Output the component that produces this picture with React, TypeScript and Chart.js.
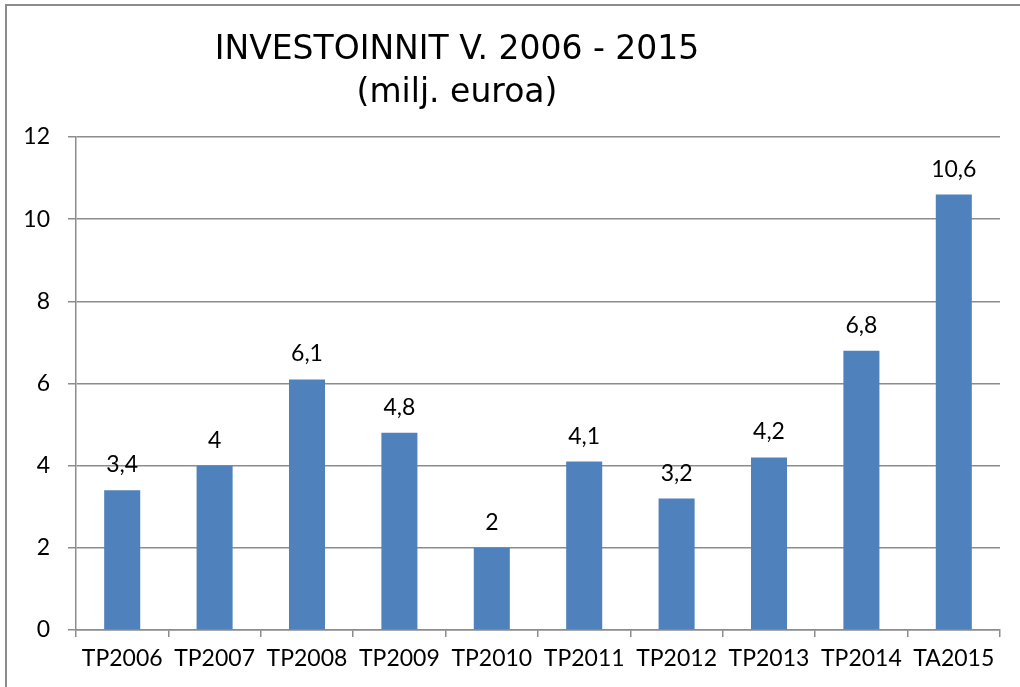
import React, { useEffect, useRef } from "react";
import { Chart, registerables } from "chart.js";

Chart.register(...registerables);

const categories = ["TP2006", "TP2007", "TP2008", "TP2009", "TP2010", "TP2011", "TP2012", "TP2013", "TP2014", "TA2015"];
const values = [3.4, 4, 6.1, 4.8, 2, 4.1, 3.2, 4.2, 6.8, 10.6];
const titleLines = ["INVESTOINNIT V. 2006 - 2015", "(milj. euroa)"];
const yMin = 0;
const yMax = 12;
const yStep = 2;

const TITLE_FONT = "'DejaVu Sans', Verdana, sans-serif";
const FONT = "Lato, 'Open Sans', sans-serif";
const fmt = (v: number) => String(v).replace(".", ",");

const labelsPlugin = {
  id: "barLabels",
  afterDatasetsDraw(chart: any) {
    const ctx = chart.ctx;
    const meta = chart.getDatasetMeta(0);
    ctx.save();
    ctx.fillStyle = "#000";
    ctx.font = `23px ${FONT}`;
    ctx.textAlign = "center";
    ctx.textBaseline = "alphabetic";
    meta.data.forEach((bar: any, i: number) => {
      ctx.fillText(fmt(values[i]), bar.x, bar.y - 18);
    });
    ctx.restore();
  },
};

const titlePlugin = {
  id: "customTitle",
  afterDraw(chart: any) {
    const ctx = chart.ctx;
    ctx.save();
    ctx.fillStyle = "#000";
    ctx.font = `33px ${TITLE_FONT}`;
    ctx.textAlign = "center";
    ctx.textBaseline = "middle";
    ctx.fillText(titleLines[0], 457, 50);
    ctx.fillText(titleLines[1], 457, 93);
    ctx.restore();
  },
};

export default function App() {
  const ref = useRef<HTMLCanvasElement>(null);
  useEffect(() => {
    document.body.style.margin = "0";
    const chart = new Chart(ref.current!, {
      type: "bar",
      data: {
        labels: categories,
        datasets: [
          {
            data: values,
            backgroundColor: "#4F81BD",
            barPercentage: 0.39,
            categoryPercentage: 1,
          },
        ],
      },
      options: {
        animation: false,
        responsive: false,
        maintainAspectRatio: false,
        layout: { padding: { left: 0, top: 137, right: 20, bottom: 0 } },
        plugins: { legend: { display: false }, title: { display: false }, tooltip: { enabled: false } },
        scales: {
          x: {
            offset: true,
            grid: { drawOnChartArea: false, drawTicks: true, tickLength: 7, offset: true, color: "#8c8c8c", lineWidth: 1.5 },
            border: { color: "#8c8c8c", width: 1.5 },
            ticks: { color: "#000", font: { family: FONT, size: 23 }, padding: 8, maxRotation: 0, autoSkip: false },
            afterFit: (s: any) => { s.height = 57; },
          },
          y: {
            min: yMin,
            max: yMax,
            ticks: { stepSize: yStep, color: "#000", font: { family: FONT, size: 23 }, padding: 18 },
            grid: { color: "#8c8c8c", lineWidth: 1.5, tickLength: 8 },
            border: { color: "#8c8c8c", width: 1.5 },
            afterFit: (s: any) => { s.width = 76; },
          },
        },
      },
      plugins: [labelsPlugin, titlePlugin],
    });
    return () => chart.destroy();
  }, []);
  return (
    <div style={{ position: "relative", width: 1020, height: 687, overflow: "hidden", background: "#fff" }}>
      <div style={{ position: "absolute", left: 5, top: 4, width: 1100, height: 800, borderLeft: "2px solid #8c8c8c", borderTop: "2px solid #8c8c8c" }} />
      <canvas ref={ref} width={1020} height={687} style={{ position: "absolute", left: 0, top: 0 }} />
    </div>
  );
}
